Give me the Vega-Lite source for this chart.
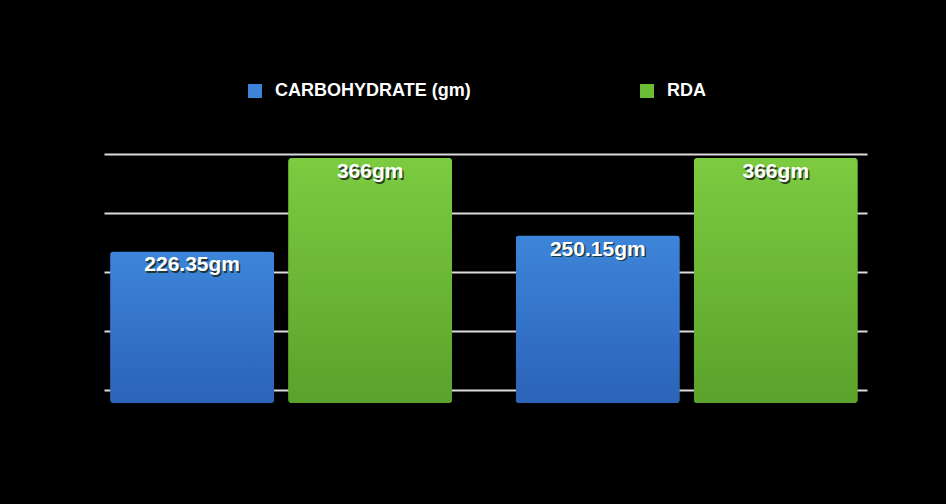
{
  "$schema": "https://vega.github.io/schema/vega-lite/v6.json",
  "autosize": {"type": "none"},
  "width": 763,
  "height": 249,
  "padding": {"left": 104, "top": 154, "right": 79, "bottom": 101},
  "background": "#000000",
  "config": {
    "view": {"stroke": null},
    "font": "Liberation Sans"
  },
  "data": {
    "values": [
      {"group": "G1", "series": "CARBOHYDRATE (gm)", "value": 226.35, "label": "226.35gm"},
      {"group": "G1", "series": "RDA", "value": 366, "label": "366gm"},
      {"group": "G2", "series": "CARBOHYDRATE (gm)", "value": 250.15, "label": "250.15gm"},
      {"group": "G2", "series": "RDA", "value": 366, "label": "366gm"}
    ]
  },
  "encoding": {
    "x": {
      "field": "group", "type": "nominal", "axis": null,
      "scale": {"paddingInner": 0.157, "paddingOuter": 0.019, "align": 0.4}
    },
    "xOffset": {
      "field": "series", "type": "nominal",
      "scale": {"paddingInner": 0.079, "paddingOuter": 0}
    },
    "y": {
      "field": "value", "type": "quantitative",
      "scale": {"domain": [0, 372], "nice": false},
      "axis": {
        "values": [19.5, 107.6, 195.8, 283.9, 372],
        "grid": true, "gridColor": "#dcdcdc", "gridWidth": 2,
        "labels": false, "ticks": false, "domain": false, "title": null
      }
    }
  },
  "layer": [
    {
      "mark": {"type": "bar", "cornerRadius": 3},
      "encoding": {
        "color": {
          "field": "series", "type": "nominal",
          "scale": {"domain": ["CARBOHYDRATE (gm)", "RDA"], "range": ["#3d84d8", "#6cbd36"]},
          "legend": {
            "title": null,
            "orient": "none",
            "direction": "horizontal",
            "legendX": 142,
            "legendY": -72,
            "padding": 0,
            "symbolType": "square",
            "symbolSize": 196,
            "symbolStrokeWidth": 0,
            "labelColor": "#ffffff",
            "labelFont": "Liberation Sans",
            "labelFontSize": 18,
            "labelFontWeight": "bold",
            "labelOffset": 11,
            "labelLimit": 400,
            "columnPadding": 167
          }
        }
      }
    },
    {
      "transform": [{"filter": "datum.series === 'CARBOHYDRATE (gm)'"}],
      "mark": {
        "type": "bar", "cornerRadius": 4,
        "fill": {"gradient": "linear", "x1": 0, "y1": 0, "x2": 0, "y2": 1,
          "stops": [{"offset": 0, "color": "#3d85da"}, {"offset": 1, "color": "#2b63b8"}]}
      }
    },
    {
      "transform": [{"filter": "datum.series === 'RDA'"}],
      "mark": {
        "type": "bar", "cornerRadius": 4,
        "fill": {"gradient": "linear", "x1": 0, "y1": 0, "x2": 0, "y2": 1,
          "stops": [{"offset": 0, "color": "#7ccb40"}, {"offset": 1, "color": "#5aa22b"}]}
      }
    },
    {
      "mark": {"type": "text", "baseline": "top", "dy": 4.5, "dx": 1.5, "font": "Liberation Sans", "fontSize": 21, "fontWeight": "bold", "color": "#1a2a1a", "opacity": 0.85},
      "encoding": {"text": {"field": "label"}}
    },
    {
      "mark": {"type": "text", "baseline": "top", "dy": 3, "font": "Liberation Sans", "fontSize": 21, "fontWeight": "bold", "color": "#ffffff"},
      "encoding": {"text": {"field": "label"}}
    }
  ]
}
